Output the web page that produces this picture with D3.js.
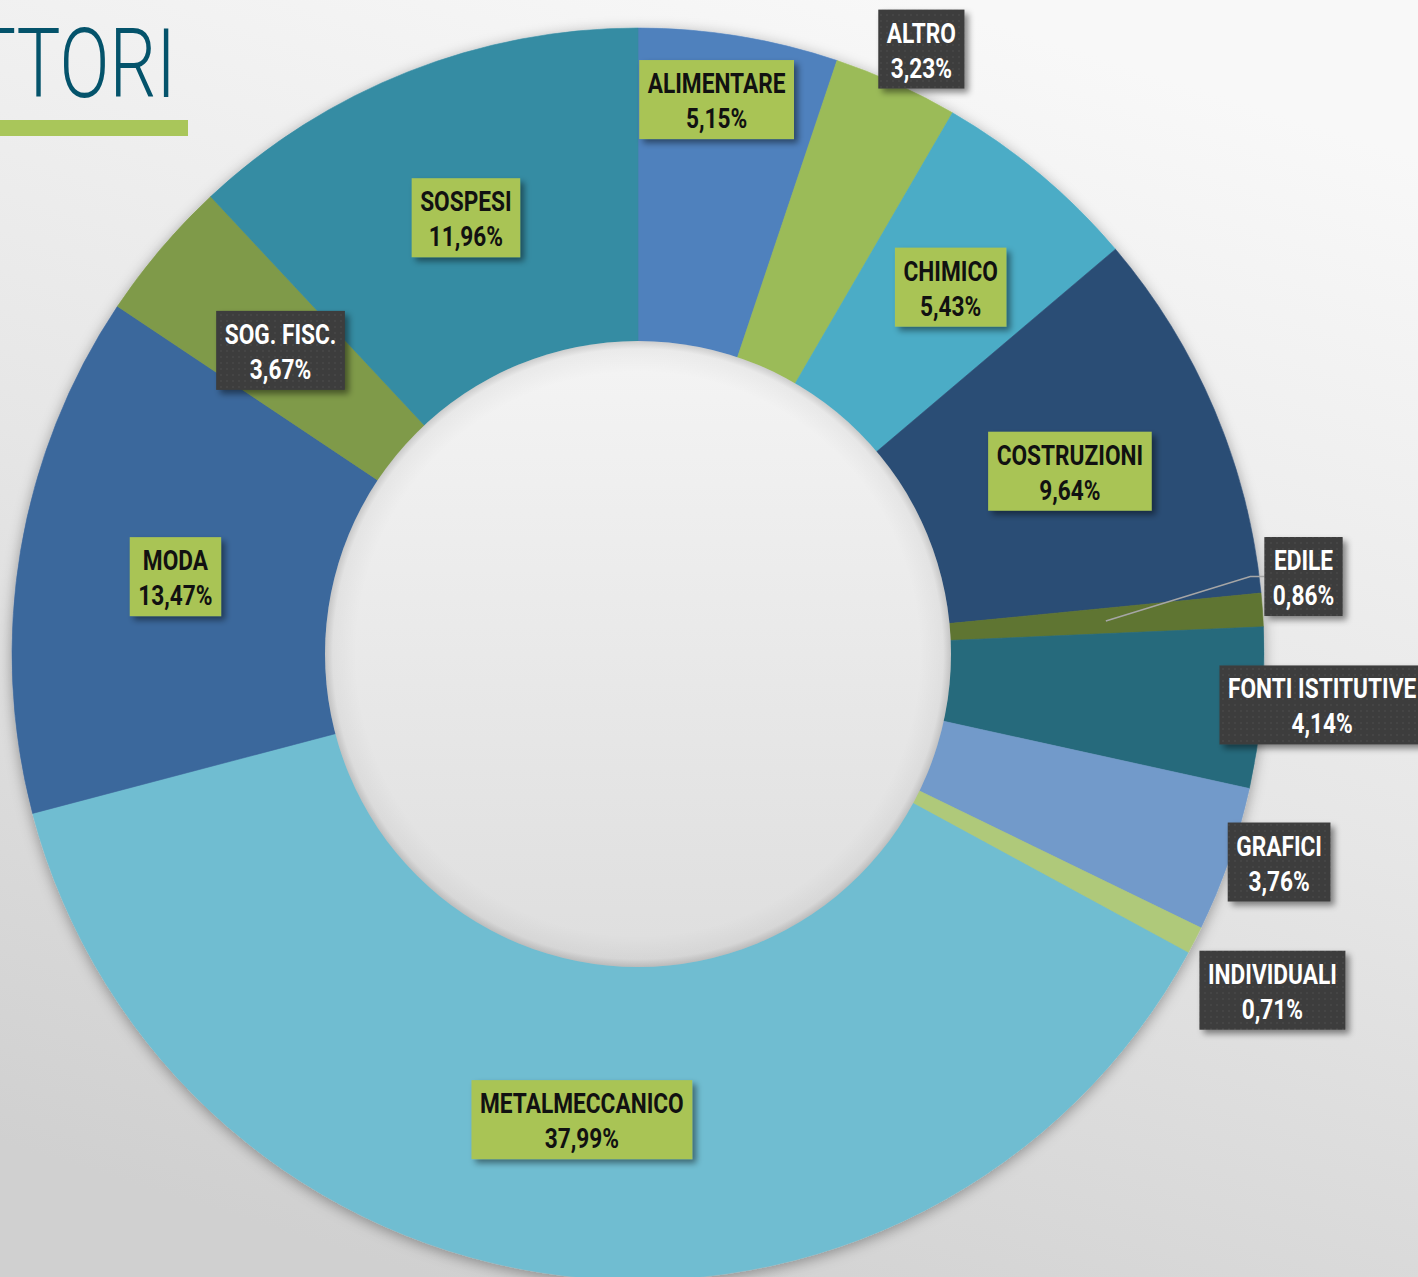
<!DOCTYPE html>
<html><head><meta charset="utf-8">
<script src="https://cdn.jsdelivr.net/npm/d3@7"></script>
<style>html,body{margin:0;padding:0;overflow:hidden;background:#e6e6e6}</style>
</head><body>
<svg id="chart" width="1418" height="1277"></svg>
<script>
// ---- data ----
const categories = ["ALIMENTARE","ALTRO","CHIMICO","COSTRUZIONI","EDILE","FONTI ISTITUTIVE","GRAFICI","INDIVIDUALI","METALMECCANICO","MODA","SOG. FISC.","SOSPESI"];
const values = [5.15,3.23,5.43,9.64,0.86,4.14,3.76,0.71,37.99,13.47,3.67,11.96];
const valueLabels = ["5,15%","3,23%","5,43%","9,64%","0,86%","4,14%","3,76%","0,71%","37,99%","13,47%","3,67%","11,96%"];
const titleText = "SETTORI";
// ---- styling / layout ----
const sliceColors = ["#4f81bd","#9bbb59","#4bacc6","#2c4d75","#5f7530","#276a7c","#729aca","#afc97a","#6fbdd1","#3a679c","#7f9a48","#358ca3"];
const labelDark = [false,true,false,false,true,true,true,true,false,false,true,false];
const labelRadius = [560,668,482,469,670,686,674,718,469,469,469,469];
const labelShiftDeg = [-1.2,0.75,0.5,0,-2.6,-0.7,-1.2,0.7,0,0,0,0];
const leader = [false,false,false,false,true,false,false,false,false,false,false,false];

const W = 1418, H = 1277;
const cx = 638, cy = 654, rOuter = 626, rInner = 312;
const svg = d3.select("#chart");
const defs = svg.append("defs");

const bg = defs.append("linearGradient").attr("id","bg").attr("x1","0.65").attr("y1","0").attr("x2","0.3").attr("y2","1");
bg.append("stop").attr("offset","0").attr("stop-color","#f8f8f8");
bg.append("stop").attr("offset","0.5").attr("stop-color","#e6e6e6");
bg.append("stop").attr("offset","1").attr("stop-color","#d0d0d0");

const ig = defs.append("linearGradient").attr("id","innerFill").attr("x1","0").attr("y1","0").attr("x2","0").attr("y2","1");
ig.append("stop").attr("offset","0").attr("stop-color","#f4f4f4");
ig.append("stop").attr("offset","1").attr("stop-color","#dedede");
const ir = defs.append("radialGradient").attr("id","innerEdge").attr("cx","0.5").attr("cy","0.5").attr("r","0.5");
ir.append("stop").attr("offset","0.9").attr("stop-color","#000").attr("stop-opacity","0");
ir.append("stop").attr("offset","0.975").attr("stop-color","#000").attr("stop-opacity","0.04");
ir.append("stop").attr("offset","1").attr("stop-color","#000").attr("stop-opacity","0.16");

const sh = defs.append("filter").attr("id","donutShadow").attr("x","-10%").attr("y","-10%").attr("width","120%").attr("height","120%");
sh.append("feDropShadow").attr("dx",0).attr("dy",3).attr("stdDeviation",7).attr("flood-color","#000").attr("flood-opacity",0.35);
const bs = defs.append("filter").attr("id","boxShadow").attr("x","-20%").attr("y","-20%").attr("width","150%").attr("height","150%");
bs.append("feDropShadow").attr("dx",4).attr("dy",4).attr("stdDeviation",3).attr("flood-color","#000").attr("flood-opacity",0.45);

const pat = defs.append("pattern").attr("id","dots").attr("width",6).attr("height",6).attr("patternUnits","userSpaceOnUse");
pat.append("rect").attr("width",6).attr("height",6).attr("fill","#3c3c3c");
pat.append("circle").attr("cx",3).attr("cy",3).attr("r",1).attr("fill","#484848");

svg.append("rect").attr("width",W).attr("height",H).attr("fill","url(#bg)");

// title
const tg = svg.append("g").attr("transform","translate(176,97) scale(0.76,1)");
tg.append("text").text(titleText).attr("text-anchor","end")
  .style("font-family","Roboto, 'Open Sans', sans-serif").style("font-weight",300)
  .style("font-size","97px").attr("fill","#04536b");
svg.append("rect").attr("x",0).attr("y",120).attr("width",188).attr("height",16).attr("fill","#a9c65a");

// donut
const data = categories.map((c,i)=>({cat:c,value:values[i],label:valueLabels[i],i}));
const pie = d3.pie().value(d=>d.value).sort(null);
const arcs = pie(data);
const arc = d3.arc().innerRadius(rInner).outerRadius(rOuter);
const g = svg.append("g").attr("transform",`translate(${cx},${cy})`);
const slices = g.append("g").attr("filter","url(#donutShadow)");
slices.selectAll("path").data(arcs).join("path")
  .attr("d",arc).attr("fill",d=>sliceColors[d.data.i])
  .attr("stroke",d=>sliceColors[d.data.i]).attr("stroke-width",0.6);

// inner disc
g.append("circle").attr("r",rInner+1).attr("fill","url(#innerFill)");
g.append("circle").attr("r",rInner+1).attr("fill","url(#innerEdge)");

// labels
const FONT = "Roboto, 'Noto Sans', sans-serif";
const SX = 0.84;
const lg = g.append("g");
arcs.forEach(a=>{
  const i = a.data.i;
  const mid = (a.startAngle+a.endAngle)/2 + labelShiftDeg[i]*Math.PI/180;
  const lx = Math.sin(mid)*labelRadius[i], ly = -Math.cos(mid)*labelRadius[i];
  const grp = lg.append("g");
  const inner = grp.append("g").attr("transform",`translate(${lx},${ly}) scale(${SX},1)`);
  const t1 = inner.append("text").text(a.data.cat).attr("text-anchor","middle").attr("y",-6.5)
    .style("font-family",FONT).style("font-weight",700).style("font-size","27px")
    .attr("fill",labelDark[i]?"#ffffff":"#111111");
  const t2 = inner.append("text").text(a.data.label).attr("text-anchor","middle").attr("y",28.5)
    .style("font-family",FONT).style("font-weight",700).style("font-size","27px")
    .attr("fill",labelDark[i]?"#ffffff":"#111111");
  const tw = Math.max(t1.node().getComputedTextLength(), t2.node().getComputedTextLength())*SX;
  const bw = tw + 17, bh = 79;
  grp.insert("rect","g").attr("x",lx-bw/2).attr("y",ly-bh/2).attr("width",bw).attr("height",bh)
    .attr("fill",labelDark[i]?"url(#dots)":"#a9c455").attr("filter","url(#boxShadow)");
  if (leader[i]) {
    const c = arc.centroid(a);
    const ex = lx-bw/2;
    lg.insert("path",":first-child").attr("d",`M${c[0]},${c[1]}L${ex-14},${ly}L${ex},${ly}`)
      .attr("fill","none").attr("stroke","#a6a6a6").attr("stroke-width",1.5);
  }
});
</script>
</body></html>
